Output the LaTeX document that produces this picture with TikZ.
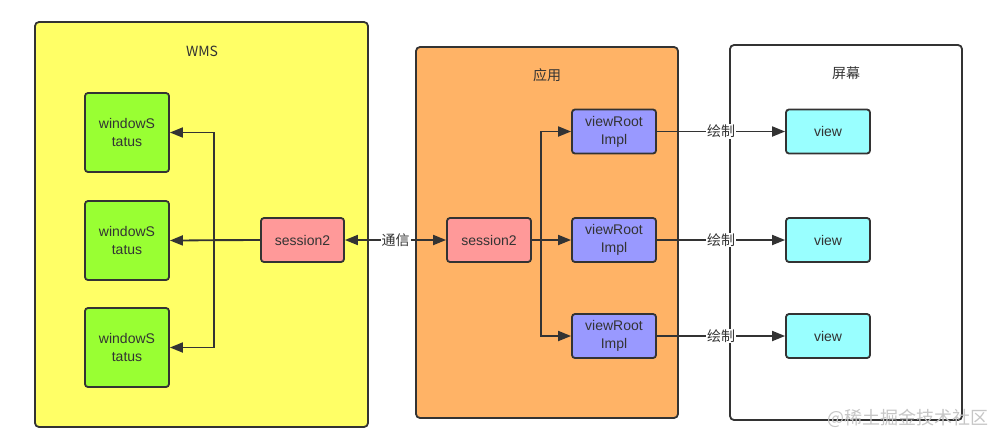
\documentclass[tikz,border=0pt]{standalone}
\usepackage{fontspec}
\setmainfont{Liberation Sans}
\newfontfamily\cjk{Noto Sans CJK SC}
\usetikzlibrary{arrows.meta}
\definecolor{wmsfill}{HTML}{FFFF66}
\definecolor{appfill}{HTML}{FFB366}
\definecolor{wsfill}{HTML}{99FF33}
\definecolor{sesfill}{HTML}{FF9999}
\definecolor{vrfill}{HTML}{9999FF}
\definecolor{viewfill}{HTML}{99FFFF}
\definecolor{linegray}{HTML}{333333}

\begin{document}
\begin{tikzpicture}[x=1pt,y=-1pt,
  panel/.style={draw=linegray,line width=1.8pt,rounded corners=4pt,inner sep=0pt},
  box/.style={draw=linegray,line width=1.8pt,rounded corners=3pt,minimum width=84pt,minimum height=44pt,
    align=center,text=linegray,font=\fontsize{14}{18}\selectfont,inner sep=0pt},
  title/.style={text=linegray,font=\cjk\fontsize{14}{17}\selectfont},
  flow/.style={draw=linegray,line width=1.8pt,-{Triangle[length=13pt,width=10pt]}},
  lbl/.style={fill=white,inner sep=1pt,text=linegray,font=\cjk\fontsize{14}{17}\selectfont}]
\useasboundingbox (0,0) rectangle (1008,445);
\node[panel,fill=wmsfill,minimum width=333pt,minimum height=405pt] (wms) at (201.5,224.5) {};
\node[panel,fill=appfill,minimum width=262pt,minimum height=371pt] (app) at (547,232.5) {};
\node[panel,fill=white,minimum width=232pt,minimum height=375pt] (screen) at (846,232.5) {};
\node[title] (wmstitle) at (202,51) {WMS};
\node[title] (apptitle) at (547,75) {应用};
\node[title] (screentitle) at (846,73) {屏幕};
\node[box,fill=wsfill,minimum height=79pt] (ws1) at (127,132.5) {windowS\\tatus};
\node[box,fill=wsfill,minimum height=79pt] (ws2) at (127,240.5) {windowS\\tatus};
\node[box,fill=wsfill,minimum height=79pt] (ws3) at (127,347.5) {windowS\\tatus};
\node[box,fill=sesfill,minimum width=83pt] (sesw) at (302.5,240) {session2};
\node[box,fill=sesfill] (sesa) at (489,240) {session2};
\node[box,fill=vrfill] (vr1) at (614,131.5) {viewRoot\\Impl};
\node[box,fill=vrfill] (vr2) at (614,240) {viewRoot\\Impl};
\node[box,fill=vrfill] (vr3) at (614,336) {viewRoot\\Impl};
\node[box,fill=viewfill] (v1) at (828,131.5) {view};
\node[box,fill=viewfill] (v2) at (828,240) {view};
\node[box,fill=viewfill] (v3) at (828,336) {view};
\coordinate (wsjoin) at (214,240);
\coordinate (appjoin) at (541,240);
\draw[flow] (sesw.west) -- (ws2.east);
\draw[flow] (sesw.west) -- (wsjoin) |- (ws1.east);
\draw[flow] (sesw.west) -- (wsjoin) |- (ws3.east);
\draw[flow,{Triangle[length=13pt,width=10pt]}-{Triangle[length=13pt,width=10pt]}] (sesw.east) -- node[lbl] (talk) {通信} (sesa.west);
\draw[flow] (sesa.east) -- (vr2.west);
\draw[flow] (sesa.east) -- (appjoin) |- (vr1.west);
\draw[flow] (sesa.east) -- (appjoin) |- (vr3.west);
\draw[flow] (vr1.east) -- node[lbl] (draw1) {绘制} (v1.west);
\draw[flow] (vr2.east) -- node[lbl] (draw2) {绘制} (v2.west);
\draw[flow] (vr3.east) -- node[lbl] (draw3) {绘制} (v3.west);
\node[anchor=east,text=gray!45,font=\cjk\fontsize{18}{18}\selectfont] (mark) at (992,418) {@稀土掘金技术社区};
\end{tikzpicture}
\end{document}
